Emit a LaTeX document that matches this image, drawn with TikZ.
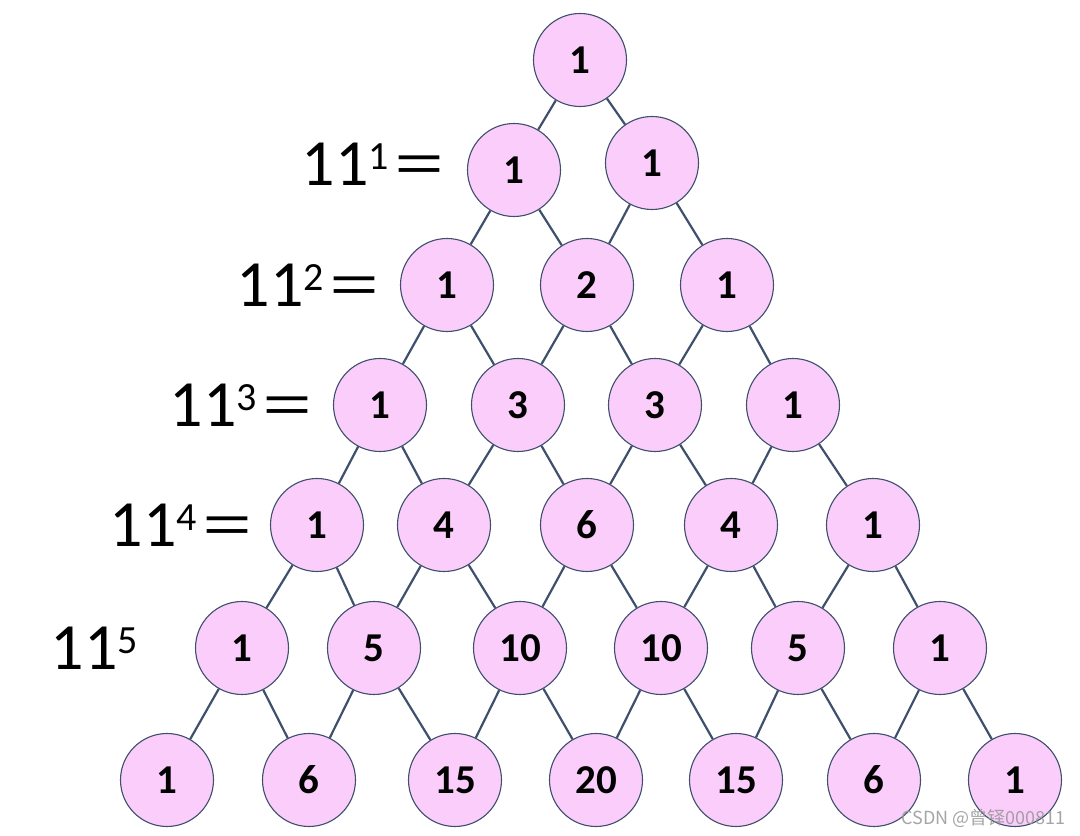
\documentclass[tikz,border=0pt]{standalone}
\usepackage{fontspec}
\setmainfont{Carlito}
\newfontfamily\cjk{Noto Sans CJK SC}
\definecolor{nodefill}{RGB}{250,205,250}
\definecolor{edgecol}{RGB}{62,80,108}
\definecolor{wm}{RGB}{150,150,150}
\tikzset{
  pnode/.style={circle,draw=edgecol,line width=1.1pt,fill=nodefill,minimum size=93pt,inner sep=0pt,font=\fontsize{41}{41}\selectfont\bfseries},
  pedge/.style={draw=edgecol,line width=2.2pt},
  powlabel/.style={anchor=east,inner sep=0pt,font=\fontsize{66}{66}\selectfont},
}
\newcommand{\eqsign}{\hspace{3pt}{\cjk\fontsize{56}{56}\selectfont ＝}}
\newcommand{\supnum}[1]{\raisebox{16pt}{\fontsize{40}{40}\selectfont #1}}
\begin{document}
\begin{tikzpicture}[x=1pt,y=1pt]
\useasboundingbox (0,0) rectangle (1080,836);
\fill[white] (0,0) rectangle (1080,836);
% row 0
\node[pnode] (r0c0) at (580,776) {1};
% row 1
\node[pnode] (r1c0) at (514,666) {1};
\node[pnode] (r1c1) at (652,673) {1};
% row 2
\node[pnode] (r2c0) at (447,551) {1};
\node[pnode] (r2c1) at (587,551) {2};
\node[pnode] (r2c2) at (727,551) {1};
% row 3
\node[pnode] (r3c0) at (380,431) {1};
\node[pnode] (r3c1) at (518,431) {3};
\node[pnode] (r3c2) at (655,431) {3};
\node[pnode] (r3c3) at (793,431) {1};
% row 4
\node[pnode] (r4c0) at (317,311) {1};
\node[pnode] (r4c1) at (444,311) {4};
\node[pnode] (r4c2) at (587,311) {6};
\node[pnode] (r4c3) at (731,311) {4};
\node[pnode] (r4c4) at (873,311) {1};
% row 5
\node[pnode] (r5c0) at (242,188) {1};
\node[pnode] (r5c1) at (374,188) {5};
\node[pnode] (r5c2) at (520,188) {10};
\node[pnode] (r5c3) at (661,188) {10};
\node[pnode] (r5c4) at (798,188) {5};
\node[pnode] (r5c5) at (940,188) {1};
% row 6
\node[pnode] (r6c0) at (167,56) {1};
\node[pnode] (r6c1) at (309,56) {6};
\node[pnode] (r6c2) at (455,56) {15};
\node[pnode] (r6c3) at (596,56) {20};
\node[pnode] (r6c4) at (736,56) {15};
\node[pnode] (r6c5) at (874,56) {6};
\node[pnode] (r6c6) at (1015,56) {1};
% edges
\foreach \i [evaluate=\i as \n using int(\i+1)] in {0,...,5}{
  \foreach \j [evaluate=\j as \k using int(\j+1)] in {0,...,\i}{
    \draw[pedge] (r\i c\j) -- (r\n c\j);
    \draw[pedge] (r\i c\j) -- (r\n c\k);
  }
}
% power labels
\node[powlabel] (p1) at (448,672) {11\supnum{1}\eqsign};
\node[powlabel] (p2) at (383,551) {11\supnum{2}\eqsign};
\node[powlabel] (p3) at (316,431) {11\supnum{3}\eqsign};
\node[powlabel] (p4) at (256,311) {11\supnum{4}\eqsign};
\node[powlabel] (p5) at (138,188) {11\supnum{5}};
% watermark
\node[anchor=east,inner sep=0pt,text=wm,opacity=0.85,font=\fontsize{18}{18}\selectfont\cjk] (wmk) at (1066,18) {CSDN @曾铎000811};
\end{tikzpicture}
\end{document}
